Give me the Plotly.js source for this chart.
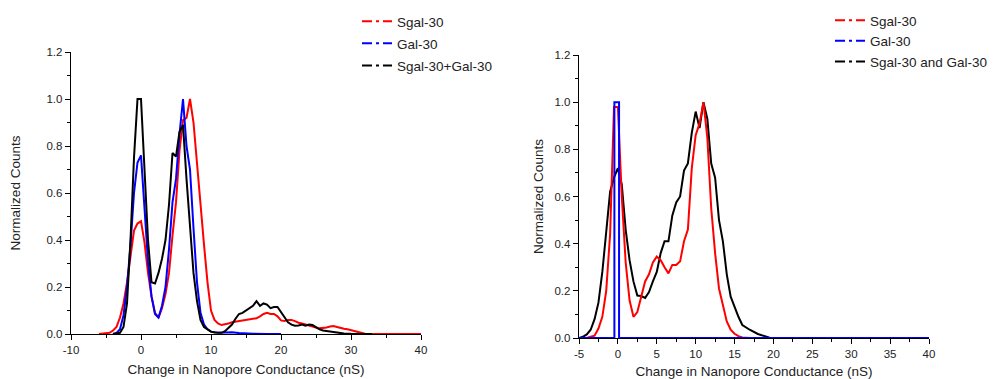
<!DOCTYPE html>
<html>
<head>
<meta charset="utf-8">
<script src="https://cdn.plot.ly/plotly-3.0.1.min.js"></script>
<style>html,body{margin:0;padding:0;background:#fff;}#chart{width:993px;height:379px;}</style>
</head>
<body>
<div id="chart"></div>
<script>
// ---------- Left panel data ----------
const leftSgalX = [-6,-5,-4.5,-4,-3.5,-3,-2.5,-2,-1.5,-1,-0.5,0,0.5,1,1.5,2,2.5,3,3.5,4,4.5,5,5.5,6,6.5,7,7.5,8,8.5,9,9.5,10,10.5,11,11.5,12,12.5,13,13.5,14,14.5,15,15.5,16,16.5,17,17.5,18,18.5,19,19.5,20,20.5,21,21.5,22,22.5,23,23.5,24,24.5,25,25.5,26,26.5,27,27.5,28,28.5,29,29.5,30,30.5,31,31.5,32,33,40];
const leftSgalY = [0,0.002,0.005,0.015,0.03,0.07,0.13,0.22,0.32,0.44,0.47,0.48,0.39,0.26,0.16,0.09,0.07,0.11,0.17,0.26,0.42,0.56,0.78,0.91,0.92,1.0,0.90,0.72,0.54,0.38,0.22,0.10,0.06,0.045,0.038,0.04,0.045,0.05,0.052,0.055,0.057,0.06,0.06,0.065,0.067,0.075,0.085,0.09,0.085,0.085,0.075,0.058,0.055,0.06,0.06,0.055,0.048,0.045,0.04,0.038,0.032,0.028,0.024,0.025,0.028,0.032,0.034,0.03,0.025,0.022,0.02,0.016,0.012,0.007,0.003,0.001,0,0];

const leftGalX = [-4,-3.5,-3,-2.5,-2,-1.5,-1,-0.5,0,0.5,1,1.5,2,2.5,3,3.5,4,4.5,5,5.5,6,6.5,7,7.5,8,8.5,9,9.5,10,11,12,13,14,15,16,18,20];
const leftGalY = [0,0.005,0.02,0.08,0.2,0.38,0.6,0.73,0.76,0.55,0.31,0.16,0.085,0.07,0.12,0.2,0.36,0.56,0.66,0.85,1.0,0.80,0.70,0.45,0.22,0.09,0.04,0.02,0.01,0.005,0.006,0.007,0.004,0.002,0.001,0,0];

const leftMixX = [-4,-3,-2.5,-2,-1.5,-1,-0.5,0,0.5,1,1.5,2,2.5,3,3.5,4,4.5,5,5.5,6,6.5,7,7.5,8,8.5,9,9.5,10,10.5,11,11.5,12,12.5,13,13.5,14,14.5,15,15.5,16,16.5,17,17.5,18,18.5,19,19.5,20,20.5,21,21.5,22,22.5,23,23.5,24,24.5,25,25.5,26,27,28,29,30,31,33];
const leftMixY = [0,0.005,0.03,0.13,0.40,0.75,1.0,1.0,0.70,0.40,0.22,0.215,0.26,0.32,0.40,0.55,0.77,0.755,0.86,0.89,0.66,0.44,0.26,0.14,0.06,0.03,0.018,0.01,0.006,0.004,0.005,0.012,0.025,0.04,0.065,0.085,0.09,0.10,0.11,0.12,0.14,0.12,0.13,0.125,0.11,0.115,0.115,0.095,0.07,0.05,0.04,0.035,0.036,0.04,0.035,0.04,0.038,0.028,0.02,0.015,0.01,0.005,0.002,0.001,0,0];

// ---------- Right panel data ----------
const rightSgalX = [-5,-4,-3.5,-3,-2.5,-2,-1.5,-1,-0.5,0,0.5,1,1.5,2,2.5,3,3.5,4,4.5,5,5.5,6,6.5,7,7.5,8,8.5,9,9.5,10,10.5,11,11.5,12,12.5,13,13.5,14,14.5,15,15.5,16,17];
const rightSgalY = [0,0,0.005,0.01,0.04,0.09,0.2,0.44,0.98,0.98,0.60,0.32,0.16,0.09,0.11,0.17,0.24,0.27,0.32,0.345,0.33,0.30,0.274,0.31,0.31,0.325,0.41,0.46,0.72,0.86,0.91,1.0,0.85,0.55,0.36,0.21,0.14,0.07,0.035,0.018,0.008,0.002,0];

const rightGalX = [-5,-0.45,-0.45,0.15,0.15,40];
const rightGalY = [0,0,1.0,1.0,0,0];

const rightMixX = [-5,-4.5,-4,-3.5,-3,-2.5,-2,-1.5,-1,-0.5,0,0.5,1,1.5,2,2.5,3,3.5,4,4.5,5,5.5,6,6.5,7,7.5,8,8.5,9,9.5,10,10.5,11,11.5,12,12.5,13,13.5,14,14.5,15,15.5,16,17,18,19,19.5,20,29];
const rightMixY = [0,0.005,0.015,0.035,0.08,0.15,0.28,0.45,0.62,0.68,0.72,0.65,0.46,0.33,0.24,0.18,0.178,0.17,0.195,0.24,0.28,0.36,0.41,0.41,0.52,0.575,0.60,0.71,0.74,0.87,0.96,0.89,1.0,0.93,0.74,0.68,0.50,0.41,0.27,0.175,0.13,0.09,0.055,0.034,0.017,0.005,0.001,0,0];

// ---------- Labels ----------
const leftNames = ['Sgal-30', 'Gal-30', 'Sgal-30+Gal-30'];
const rightNames = ['Sgal-30', 'Gal-30', 'Sgal-30 and Gal-30'];
const seriesColors = ['#ff0000', '#0000ff', '#000000'];
const leftXTickVals = [-10, 0, 10, 20, 30, 40];
const leftXTickText = ['-10', '0', '10', '20', '30', '40'];
const rightXTickVals = [-5, 0, 5, 10, 15, 20, 25, 30, 35, 40];
const rightXTickText = ['-5', '0', '5', '10', '15', '20', '25', '30', '35', '40'];
const yTickVals = [0, 0.2, 0.4, 0.6, 0.8, 1.0, 1.2];
const yTickText = ['0.0', '0.2', '0.4', '0.6', '0.8', '1.0', '1.2'];
const xTitle = 'Change in Nanopore Conductance (nS)';
const yTitle = 'Normalized Counts';

const FONT = 'Liberation Sans, Arial, sans-serif';
const LW = 2;
const legendDash = '10px,4px,3px,4px,14px';

function dataTrace(x, y, color, xa, ya) {
  return {x: x, y: y, type: 'scatter', mode: 'lines', xaxis: xa, yaxis: ya,
    line: {color: color, width: LW}, showlegend: false, hoverinfo: 'skip'};
}
function legendTrace(name, color, xa, ya, leg, grp) {
  return {x: [null], y: [null], type: 'scatter', mode: 'lines', name: name, xaxis: xa, yaxis: ya,
    legend: leg, legendgroup: grp, line: {color: color, width: LW, dash: legendDash}, showlegend: true};
}

const traces = [
  dataTrace(leftSgalX, leftSgalY, seriesColors[0], 'x', 'y'),
  dataTrace(leftGalX, leftGalY, seriesColors[1], 'x', 'y'),
  dataTrace(leftMixX, leftMixY, seriesColors[2], 'x', 'y'),
  dataTrace(rightMixX, rightMixY, seriesColors[2], 'x2', 'y2'),
  dataTrace(rightSgalX, rightSgalY, seriesColors[0], 'x2', 'y2'),
  dataTrace(rightGalX, rightGalY, seriesColors[1], 'x2', 'y2'),
];
for (let i = 0; i < 3; i++) {
  traces.push(legendTrace(leftNames[i], seriesColors[i], 'x', 'y', 'legend', 'L' + i));
}
for (let i = 0; i < 3; i++) {
  traces.push(legendTrace(rightNames[i], seriesColors[i], 'x2', 'y2', 'legend2', 'R' + i));
}

const W = 993, H = 379;
function xAxis(domain, range, tv, tt, minorDt, anchor, standoff) {
  return {domain: domain, range: range, anchor: anchor, tickvals: tv, ticktext: tt,
    showline: true, linecolor: '#000', linewidth: 1.3, mirror: false,
    ticks: 'outside', ticklen: 5, tickwidth: 1, tickcolor: '#000',
    minor: {dtick: minorDt, tick0: 0, ticks: 'outside', ticklen: 3, tickwidth: 1, tickcolor: '#000'},
    showgrid: false, zeroline: false, automargin: false, layer: 'below traces',
    tickfont: {family: FONT, size: 11.5, color: '#222'},
    title: {text: xTitle, font: {family: FONT, size: 13.5, color: '#222'}, standoff: standoff}};
}
function yAxis(domain, anchor, standoff) {
  return {domain: domain, range: [0, 1.2], anchor: anchor, tickvals: yTickVals, ticktext: yTickText,
    showline: true, linecolor: '#000', linewidth: 1.3, mirror: false,
    ticks: 'outside', ticklen: 5, tickwidth: 1, tickcolor: '#000',
    minor: {dtick: 0.1, tick0: 0, ticks: 'outside', ticklen: 3, tickwidth: 1, tickcolor: '#000'},
    showgrid: false, zeroline: false, automargin: false,
    tickfont: {family: FONT, size: 11.5, color: '#222'},
    title: {text: yTitle, font: {family: FONT, size: 13.5, color: '#222'}, standoff: standoff}};
}

const legendCommon = {
  xanchor: 'left', yanchor: 'top', bgcolor: 'rgba(0,0,0,0)', borderwidth: 0,
  font: {family: FONT, size: 13.5, color: '#222'}, traceorder: 'grouped',
  itemclick: false, itemdoubleclick: false
};

const layout = {
  width: W, height: H,
  margin: {l: 0, r: 0, t: 0, b: 0},
  paper_bgcolor: '#fff', plot_bgcolor: '#fff',
  showlegend: true,
  xaxis: xAxis([71 / W, 421 / W], [-10, 40], leftXTickVals, leftXTickText, 5, 'y', 9),
  yaxis: yAxis([1 - 334 / H, 1 - 52 / H], 'x', 22),
  xaxis2: xAxis([579 / W, 929 / W], [-5, 40], rightXTickVals, rightXTickText, 2.5, 'y2', 10),
  yaxis2: yAxis([1 - 338 / H, 1 - 55 / H], 'x2', 7),
  legend: Object.assign({}, legendCommon, {x: 357 / W, y: 1 - 6 / H, tracegroupgap: 1.5}),
  legend2: Object.assign({}, legendCommon, {x: 830 / W, y: 1 - 5 / H, tracegroupgap: 0}),
};

Plotly.newPlot('chart', traces, layout, {displayModeBar: false, staticPlot: true});
</script>
</body>
</html>
